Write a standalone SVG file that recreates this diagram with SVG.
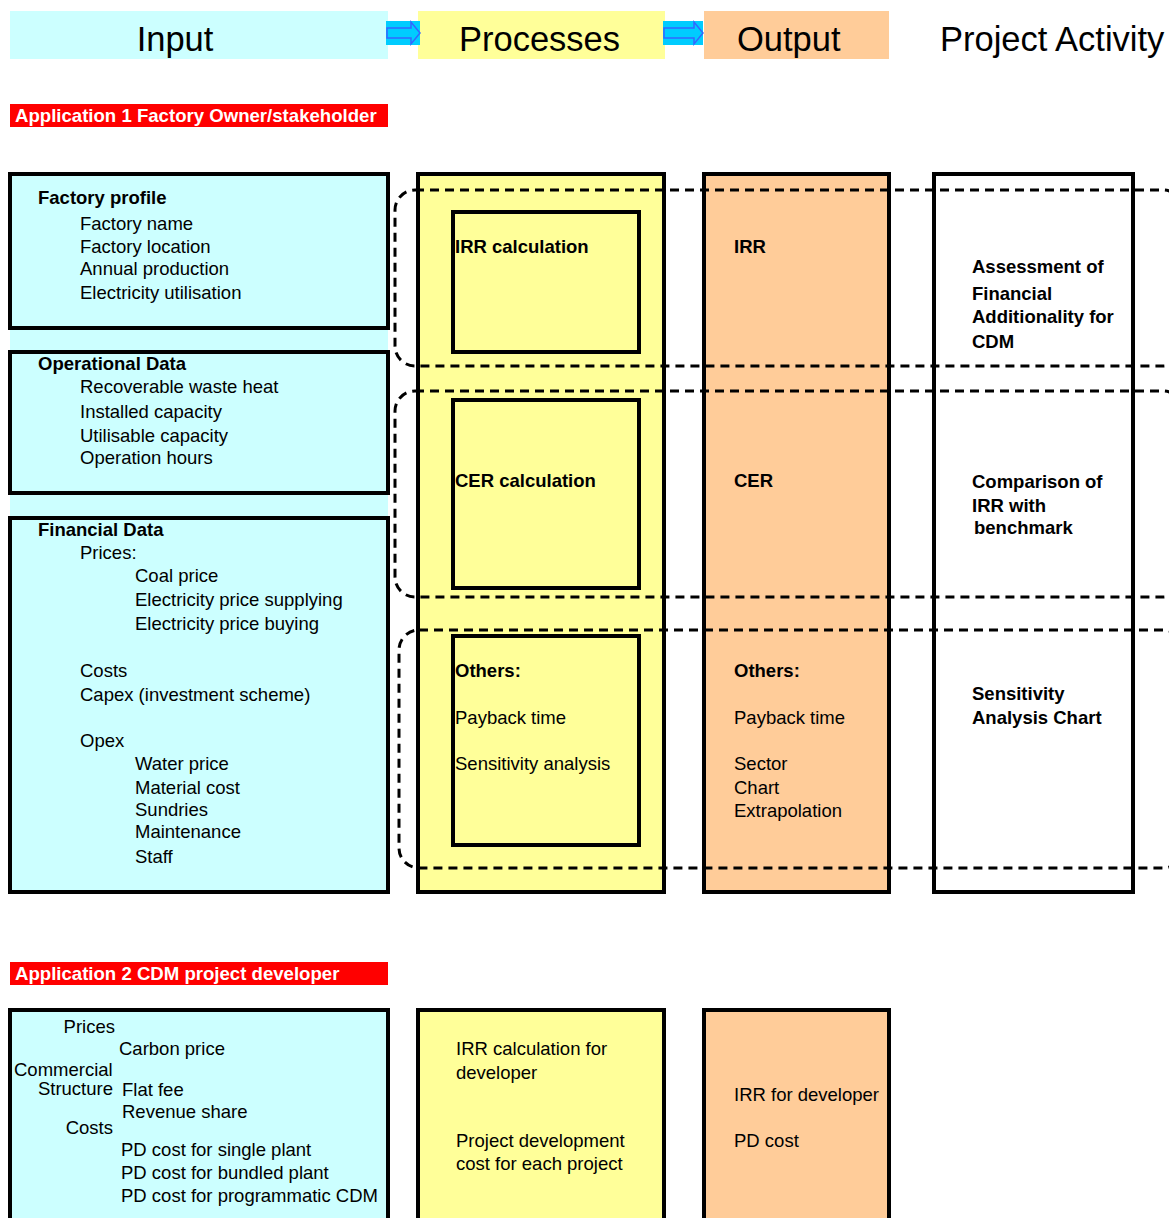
<svg xmlns="http://www.w3.org/2000/svg" width="1169" height="1218" viewBox="0 0 1169 1218">
<style>
text{font-family:"Liberation Sans",Arial,sans-serif;font-size:18.5px;fill:#000}
.b{font-weight:bold}
.hd{font-size:34.5px}
.ban{font-weight:bold;fill:#fff;font-size:18.6px}
.box{stroke:#000;stroke-width:4}
.cy{fill:#CCFFFF}
.ye{fill:#FFFF99}
.or{fill:#FFCC99}
.wh{fill:#fff}
.dash{fill:none;stroke:#000;stroke-width:3;stroke-dasharray:9 6}
.arr{fill:#00CCFF;stroke:#3366FF;stroke-width:1.5}
</style>
<rect width="1169" height="1218" fill="#fff"/>

<g id="header">
  <g id="hdr-input"><rect x="10" y="11" width="378" height="48" class="cy"/><text class="hd" x="175" y="51" text-anchor="middle">Input</text></g>
  <g id="hdr-processes"><rect x="418" y="11" width="247" height="48" class="ye"/><text class="hd" x="459" y="51">Processes</text></g>
  <g id="hdr-output"><rect x="704" y="11" width="185" height="48" class="or"/><text class="hd" x="737" y="51">Output</text></g>
  <g id="hdr-activity"><text class="hd" x="940" y="51">Project Activity</text></g>
</g>

<g id="banner1"><rect x="10" y="104" width="378" height="23" fill="#FF0000"/><text class="ban" x="15" y="122">Application 1 Factory Owner/stakeholder</text></g>

<g id="input-column">
  <rect x="10" y="174" width="378" height="718" class="cy"/>
  <g id="factory-profile">
    <rect x="10" y="174" width="378" height="154" class="box cy"/>
    <text class="b" x="38" y="204">Factory profile</text>
    <text x="80" y="230">Factory name</text>
    <text x="80" y="253">Factory location</text>
    <text x="80" y="275">Annual production</text>
    <text x="80" y="299">Electricity utilisation</text>
  </g>
  <g id="operational-data">
    <rect x="10" y="352" width="378" height="141" class="box cy"/>
    <text class="b" x="38" y="370">Operational Data</text>
    <text x="80" y="393">Recoverable waste heat</text>
    <text x="80" y="418">Installed capacity</text>
    <text x="80" y="442">Utilisable capacity</text>
    <text x="80" y="464">Operation hours</text>
  </g>
  <g id="financial-data">
    <rect x="10" y="518" width="378" height="374" class="box cy"/>
    <text class="b" x="38" y="536">Financial Data</text>
    <text x="80" y="559">Prices:</text>
    <text x="135" y="582">Coal price</text>
    <text x="135" y="606">Electricity price supplying</text>
    <text x="135" y="630">Electricity price buying</text>
    <text x="80" y="677">Costs</text>
    <text x="80" y="701">Capex (investment scheme)</text>
    <text x="80" y="747">Opex</text>
    <text x="135" y="770">Water price</text>
    <text x="135" y="794">Material cost</text>
    <text x="135" y="816">Sundries</text>
    <text x="135" y="838">Maintenance</text>
    <text x="135" y="863">Staff</text>
  </g>
</g>

<g id="process-column">
  <rect x="418" y="174" width="246" height="718" class="box ye"/>
  <g id="irr-calc"><rect x="453" y="212" width="186" height="140" class="box ye"/><text class="b" x="455" y="253">IRR calculation</text></g>
  <g id="cer-calc"><rect x="453" y="400" width="186" height="188" class="box ye"/><text class="b" x="455" y="487">CER calculation</text></g>
  <g id="others-calc"><rect x="453" y="636" width="186" height="209" class="box ye"/>
    <text class="b" x="455" y="677">Others:</text>
    <text x="455" y="724">Payback time</text>
    <text x="455" y="770">Sensitivity analysis</text>
  </g>
</g>

<g id="output-column">
  <rect x="704" y="174" width="185" height="718" class="box or"/>
  <text class="b" x="734" y="253">IRR</text>
  <text class="b" x="734" y="487">CER</text>
  <text class="b" x="734" y="677">Others:</text>
  <text x="734" y="724">Payback time</text>
  <text x="734" y="770">Sector</text>
  <text x="734" y="794">Chart</text>
  <text x="734" y="817">Extrapolation</text>
</g>

<g id="activity-column">
  <rect x="934" y="174" width="199" height="718" class="box wh"/>
  <text class="b" x="972" y="273">Assessment of</text>
  <text class="b" x="972" y="300">Financial</text>
  <text class="b" x="972" y="323">Additionality for</text>
  <text class="b" x="972" y="348">CDM</text>
  <text class="b" x="972" y="488">Comparison of</text>
  <text class="b" x="972" y="512">IRR with</text>
  <text class="b" x="974" y="534">benchmark</text>
  <text class="b" x="972" y="700">Sensitivity</text>
  <text class="b" x="972" y="724">Analysis Chart</text>
</g>

<g id="connectors">
  <rect x="386" y="21" width="34" height="24" fill="#00CCFF"/>
  <polygon class="arr" points="387,28 411,28 411,22 420,33 411,44 411,38 387,38"/>
  <rect x="663" y="21" width="40" height="24" fill="#00CCFF"/>
  <polygon class="arr" points="664,28 694,28 694,22 703,33 694,44 694,38 664,38"/>
  <rect class="dash" x="395" y="190" width="788" height="176" rx="20" ry="20"/>
  <rect class="dash" x="395" y="391" width="788" height="206" rx="20" ry="20"/>
  <rect class="dash" x="399" y="630" width="784" height="238" rx="20" ry="20"/>
</g>

<g id="banner2"><rect x="10" y="962" width="378" height="23" fill="#FF0000"/><text class="ban" x="15" y="980">Application 2 CDM project developer</text></g>

<g id="dev-input">
  <rect x="10" y="1010" width="378" height="230" class="box cy"/>
  <text x="115" y="1033" text-anchor="end">Prices</text>
  <text x="119" y="1055">Carbon price</text>
  <text x="14" y="1076">Commercial</text>
  <text x="113" y="1095" text-anchor="end">Structure</text>
  <text x="122" y="1096">Flat fee</text>
  <text x="122" y="1118">Revenue share</text>
  <text x="113" y="1134" text-anchor="end">Costs</text>
  <text x="121" y="1156">PD cost for single plant</text>
  <text x="121" y="1179">PD cost for bundled plant</text>
  <text x="121" y="1202">PD cost for programmatic CDM</text>
</g>
<g id="dev-process">
  <rect x="418" y="1010" width="246" height="230" class="box ye"/>
  <text x="456" y="1055">IRR calculation for</text>
  <text x="456" y="1079">developer</text>
  <text x="456" y="1147">Project development</text>
  <text x="456" y="1170">cost for each project</text>
</g>
<g id="dev-output">
  <rect x="704" y="1010" width="185" height="230" class="box or"/>
  <text x="734" y="1101">IRR for developer</text>
  <text x="734" y="1147">PD cost</text>
</g>
</svg>
